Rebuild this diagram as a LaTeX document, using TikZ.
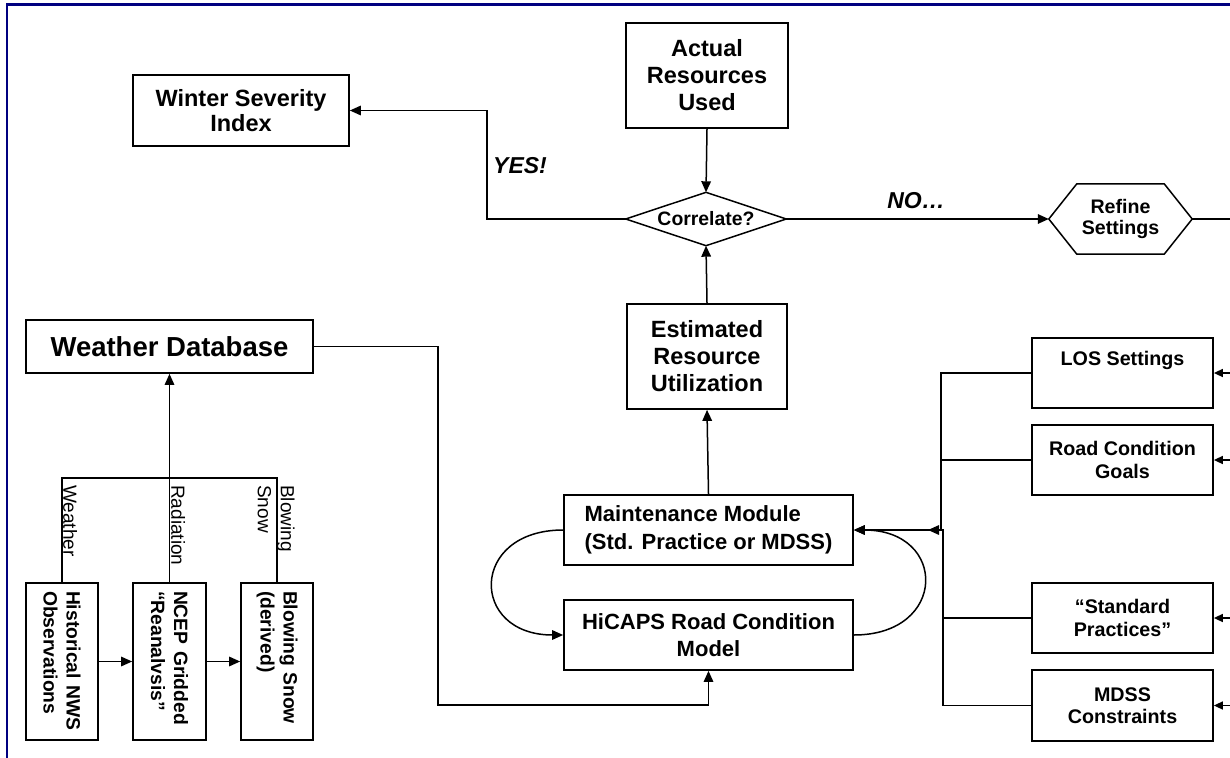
\documentclass[tikz,border=0pt]{standalone}
\usepackage{fontspec}
\setmainfont{Liberation Sans}
\usetikzlibrary{arrows.meta}
\definecolor{framecol}{RGB}{0,0,128}
\newcommand\fz[2]{\fontsize{#1}{#2}\selectfont}
\begin{document}
\begin{tikzpicture}[x=1pt,y=-1pt,
  box/.style={draw, line width=1.7pt, inner sep=0pt, align=center},
  vbox/.style={draw, line width=1.7pt, rotate=-90, minimum width=157pt, minimum height=72pt,
     inner xsep=8pt, inner ysep=0pt, text width=141pt, align=left, font=\bfseries\fz{19.3}{23}},
  vlab/.style={rotate=-90, anchor=south west, inner sep=1pt, align=left, font=\fz{19}{23}},
  ln/.style={line width=1.5pt},
  arr/.style={-{Triangle[length=11pt,width=9.5pt]}},
  lab/.style={inner sep=0pt, font=\bfseries\itshape\fz{23}{26}}]
\useasboundingbox (0,0) rectangle (1230,757);
\draw[framecol, line width=2.6pt] (7,760) -- (7,4.3) -- (1232,4.3);

% top part
\node[box, minimum width=216pt, minimum height=71pt, font=\bfseries\fz{23.5}{24.5}] (wsi) at (241,110.5) {Winter Severity\\Index};
\node[box, minimum width=162pt, minimum height=105pt, font=\bfseries\fz{23.5}{27}] (act) at (707,75.5) {Actual\\Resources\\Used};
\node[inner sep=0pt, minimum width=160pt, minimum height=53pt, align=center, font=\bfseries\fz{19.4}{22}] (cor) at (706,219) {Correlate?};
\draw[line width=1.5pt] (cor.west) -- (cor.north) -- (cor.east) -- (cor.south) -- cycle;
\node[box, minimum width=160pt, minimum height=105pt, font=\bfseries\fz{23.5}{27}] (est) at (707,356.5) {Estimated\\Resource\\Utilization};
\node[inner sep=0pt, minimum width=143pt, minimum height=70pt, align=center, font=\bfseries\fz{19.6}{21.5}] (ref) at (1120.5,219) {Refine\\Settings};
\draw[line width=1.5pt] (ref.west) -- ([xshift=28pt]ref.north west) -- ([xshift=-28pt]ref.north east) -- (ref.east) -- ([xshift=-28pt]ref.south east) -- ([xshift=28pt]ref.south west) -- cycle;
\node[lab] (yes) at (520,166) {YES!};
\node[lab] (no) at (916,201) {NO…};

% right boxes
\node[box, minimum width=181pt, minimum height=70pt, font=\bfseries\fz{19.7}{23}] (los) at (1122.5,373) {LOS Settings\\\strut};
\node[box, minimum width=181pt, minimum height=70pt, font=\bfseries\fz{19.7}{23}] (rcg) at (1122.5,460) {Road Condition\\Goals};
\node[box, minimum width=181pt, minimum height=70pt, font=\bfseries\fz{19.7}{23.5}] (sp) at (1122.5,618) {“Standard\\Practices”};
\node[box, minimum width=181pt, minimum height=71pt, font=\bfseries\fz{19.7}{22.5}] (mdss) at (1122.5,705.5) {MDSS\\Constraints};

% models
\node[box, minimum width=289pt, minimum height=70pt, align=left, font=\bfseries\fz{22}{27.5}] (mm) at (708.5,530) {Maintenance Module\\(Std. Practice or MDSS)};
\node[box, minimum width=289pt, minimum height=70pt, font=\bfseries\fz{22}{26.5}] (hc) at (708.5,635) {HiCAPS Road Condition\\Model};

% weather part
\node[box, minimum width=287pt, minimum height=53pt, font=\bfseries\fz{27.5}{30}] (wdb) at (169.5,346.5) {Weather Database};
\node[vbox] (hist) at (62,661.5) {Historical NWS\\Observations};
\node[vbox, minimum height=73pt] (ncep) at (169.5,661.5) {NCEP Gridded\\“Reanalvsis”};
\node[vbox] (blow) at (277,661.5) {Blowing Snow\\(derived)};
\node[vlab] (lw) at (62,484) {Weather};
\node[vlab] (lr) at (170,484) {Radiation};
\node[vlab] (lb) at (256.5,484) {Blowing\\Snow};

% connectors: top
\draw[ln,arr] (act.south) -- (cor.north);
\draw[ln,arr] (est.north) -- (cor.south);
\coordinate (yk) at (487,110.5);
\draw[ln,arr] (cor.west) -| (yk) -- (wsi.east);
\draw[ln,arr] (cor.east) -- (ref.west);
\coordinate (rx) at (1232,219);
\draw[ln] (ref.east) -- (rx);
\draw[ln,arr] (mm.north) -- (est.south);

% right inputs
\coordinate (i1) at (1232,373);
\coordinate (i2) at (1232,460);
\coordinate (i3) at (1232,618);
\coordinate (i4) at (1232,705.5);
\draw[ln,-{Triangle[length=9pt,width=8pt]}] (i1) -- (los.east);
\draw[ln,-{Triangle[length=9pt,width=8pt]}] (i2) -- (rcg.east);
\draw[ln,-{Triangle[length=9pt,width=8pt]}] (i3) -- (sp.east);
\draw[ln,-{Triangle[length=9pt,width=8pt]}] (i4) -- (mdss.east);

% bus
\coordinate (bj) at (941,530);
\coordinate (bj2) at (943,530);
\coordinate (bjt) at (928,530);
\draw[ln,arr] (los.west) -| (bj) -- (mm.east);
\draw[ln] (rcg.west) -- (rcg.west -| bj);
\draw[ln,arr] (mdss.west) -| (bj2) -- (bjt);
\draw[ln] (sp.west) -- (sp.west -| bj2);

% loop curves
\draw[ln,arr] (mm.west) .. controls +(-94,0) and +(-94,0) .. (hc.west);
\draw[ln,arr] (hc.east) .. controls +(94,0) and +(94,0) .. (mm.east);

% weather database to HiCAPS
\coordinate (w1) at (438,705);
\draw[ln,arr] (wdb.east) -| (w1) -| (hc.south);

% tree
\coordinate (tl) at (62,478);
\coordinate (tr) at (277,478);
\draw[ln] (hist.west) -- (tl) -- (tr) -- (blow.west);
\draw[ln,arr] (ncep.west) -- (wdb.south);
\draw[ln,arr] (hist.north) -- (ncep.south);
\draw[ln,arr] (ncep.north) -- (blow.south);
\end{tikzpicture}
\end{document}
